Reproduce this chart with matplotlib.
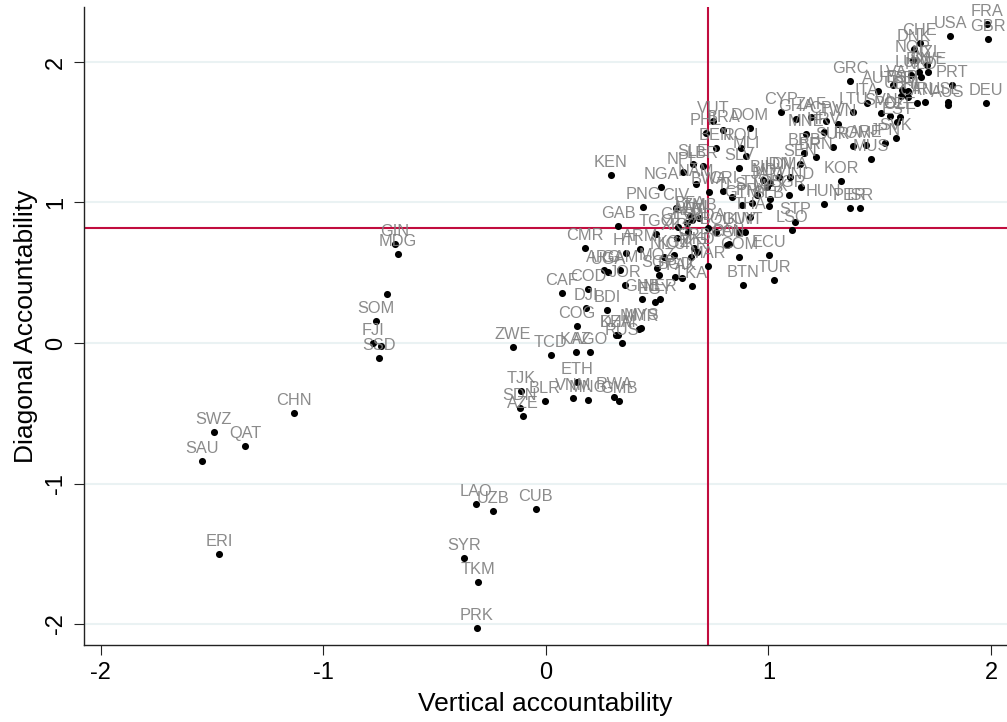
import matplotlib
matplotlib.use("Agg")
import matplotlib.pyplot as plt

plt.rcParams['font.family'] = ['Liberation Sans', 'DejaVu Sans']
plt.rcParams['axes.unicode_minus'] = False

# low end of the chart
iso_low = ['ERI', 'SAU', 'SWZ', 'QAT', 'CHN', 'GIN', 'MDG', '', 'SOM', 'FJI', '', 'SSD',
           'ZWE', 'TCD', 'KAZ', 'AGO', 'ETH', 'TJK', 'SDN', 'AZE', 'BLR', 'VNM', 'MNG',
           'RWA', 'GMB', 'LAO', 'UZB', 'CUB', 'SYR', 'TKM', 'PRK']
vert_low = [-1.47, -1.546, -1.492, -1.353, -1.133, -0.679, -0.665, -0.715, -0.764, -0.777, -0.742, -0.75,
            -0.148, 0.022, 0.135, 0.198, 0.139, -0.112, -0.117, -0.103, -0.004, 0.121, 0.189,
            0.306, 0.328, -0.315, -0.238, -0.045, -0.369, -0.306, -0.31]
diag_low = [-1.5, -0.84, -0.633, -0.733, -0.498, 0.705, 0.633, 0.348, 0.157, 0.0, -0.021, -0.107,
            -0.028, -0.085, -0.064, -0.064, -0.278, -0.342, -0.463, -0.52, -0.413, -0.391, -0.406,
            -0.384, -0.413, -1.146, -1.196, -1.181, -1.53, -1.7, -2.028]

# middle, below the red horizontal line
iso_mid = ['CMR', 'ARM', 'HTI', 'ARG', 'UGA', 'GAM', 'JOR', 'COD', 'CAF', 'DJI', 'BDI', 'COG',
           'KHM', 'DZA', 'MMR', 'MYS', 'RUS', 'GNB', 'EGY', 'NER', 'NIC', 'KGZ', 'MOZ', 'SGP',
           'BGD', 'PAK', 'LKA', 'UKR', 'SRB', 'MKD', 'MAR', 'COM', 'ECU', 'BTN', 'TUR', 'COL', 'PAN']
vert_mid = [0.175, 0.422, 0.36, 0.26, 0.279, 0.333, 0.355, 0.189, 0.072, 0.18, 0.274, 0.139,
            0.324, 0.315, 0.418, 0.427, 0.342, 0.431, 0.49, 0.512, 0.53, 0.575, 0.499, 0.508,
            0.58, 0.611, 0.656, 0.652, 0.665, 0.679, 0.728, 0.867, 1.002, 0.885, 1.025, 0.813, 0.822]
diag_mid = [0.676, 0.669, 0.64, 0.52, 0.505, 0.52, 0.413, 0.384, 0.356, 0.249, 0.235, 0.121,
            0.057, 0.057, 0.1, 0.107, 0.0, 0.313, 0.292, 0.313, 0.612, 0.626, 0.534, 0.484,
            0.47, 0.463, 0.406, 0.612, 0.676, 0.648, 0.548, 0.612, 0.626, 0.413, 0.448, 0.697, 0.704]

# dense cluster around the crossing of the red lines and above it
iso_core = ['GAB', 'TGO', 'KEN', 'NGA', 'PNG', 'CIV', 'BFA', 'MWI', 'ALB', 'GEO', 'XKX', 'TZA', 'ZMB',
            'MDA', 'BOL', 'GUY', 'KWT', 'THA', 'VUT', 'PHL', 'BRA', 'DOM', 'ROU', 'MLI', 'BEN', 'SLV',
            'SLE', 'LBR', 'NPL', 'NAM', 'BWA', 'CRI', 'TLS', 'GTM', 'PRY', 'SLB', 'MEX', 'BGR', 'TTO',
            'BIH', 'MDV', 'JAM', 'IDN', 'DMA', 'IND', 'SEN', 'STP', 'LSO']
vert_core = [0.324, 0.494, 0.292, 0.517, 0.436, 0.584, 0.647, 0.656, 0.634, 0.593, 0.589, 0.638, 0.69,
             0.728, 0.764, 0.867, 0.894, 0.917, 0.751, 0.719, 0.796, 0.917, 0.876, 0.899, 0.764, 0.867,
             0.661, 0.706, 0.616, 0.674, 0.733, 0.796, 0.836, 0.881, 0.926, 1.002, 1.007, 1.092, 0.948,
             0.975, 1.007, 0.993, 1.047, 1.097, 1.146, 1.142, 1.119, 1.106]
diag_core = [0.833, 0.776, 1.196, 1.11, 0.968, 0.961, 0.904, 0.875, 0.854, 0.826, 0.747, 0.79, 0.89,
             0.818, 0.79, 0.79, 0.79, 0.897, 1.58, 1.495, 1.516, 1.53, 1.388, 1.331, 1.388, 1.246,
             1.274, 1.26, 1.217, 1.132, 1.075, 1.082, 1.039, 0.982, 0.996, 0.975, 1.025, 1.053, 1.053,
             1.16, 1.139, 1.11, 1.181, 1.181, 1.11, 1.274, 0.861, 0.804]

# upper right
iso_high = ['BRB', 'BRN', 'MNE', 'HRV', 'SUR', 'ROM', 'ARE', 'MUS', 'KOR', 'HUN', 'PER', 'ISR',
            'CYP', 'GHA', 'ZAF', 'CPV', 'TWN', 'LTU', 'ITA', 'GRC', 'AUT', 'LVA', 'SVN', 'SVK',
            'JPN', 'POL', 'CZE', 'EST', 'ESP', 'BEL', 'URY', 'CHL', 'CAN', 'IRL', 'ISL', 'LUX',
            'AUS', 'NZL', 'SWE', 'FIN', 'NLD', 'NOR', 'DNK', 'CHE', 'PRT', 'DEU', 'USA', 'FRA', 'GBR']
vert_high = [1.16, 1.213, 1.169, 1.249, 1.29, 1.38, 1.438, 1.461, 1.326, 1.249, 1.366, 1.411,
             1.056, 1.124, 1.191, 1.258, 1.312, 1.38, 1.443, 1.366, 1.492, 1.56, 1.506, 1.573,
             1.524, 1.546, 1.591, 1.578, 1.6, 1.627, 1.596, 1.627, 1.667, 1.703, 1.807, 1.64,
             1.807, 1.712, 1.717, 1.676, 1.685, 1.649, 1.654, 1.681, 1.825, 1.978, 1.816, 1.982, 1.987]
diag_high = [1.352, 1.324, 1.488, 1.502, 1.395, 1.402, 1.409, 1.31, 1.153, 0.989, 0.961, 0.961,
             1.644, 1.594, 1.609, 1.58, 1.559, 1.644, 1.708, 1.865, 1.794, 1.836, 1.637, 1.459,
             1.423, 1.616, 1.609, 1.573, 1.801, 1.794, 1.758, 1.751, 1.708, 1.715, 1.715, 1.907,
             1.694, 1.979, 1.929, 1.929, 1.893, 2.014, 2.093, 2.135, 1.836, 1.708, 2.185, 2.27, 2.164]

iso = iso_low + iso_mid + iso_core + iso_high
vertical = vert_low + vert_mid + vert_core + vert_high
diagonal = diag_low + diag_mid + diag_core + diag_high

mean_vertical = 0.728
mean_diagonal = 0.82
ticks = [-2, -1, 0, 1, 2]

fig = plt.figure(figsize=(10.07, 7.22), dpi=100)
ax = fig.add_axes([84 / 1007, 77 / 722, 923 / 1007, 638 / 722])

ax.scatter(vertical, diagonal, s=26, color='black', linewidths=0, zorder=3)
for name, x, y in zip(iso, vertical, diagonal):
    ax.annotate(name, (x, y), xytext=(0, 9.0), textcoords='offset points', ha='center', va='center',
                fontsize=11.8, color='#7f7f7f', alpha=0.9, zorder=4)

ax.axvline(mean_vertical, color='#c10c3e', lw=1.5, zorder=2)
ax.axhline(mean_diagonal, color='#c10c3e', lw=1.5, zorder=2)

ax.set_xlim(-2.076, 2.072)
ax.set_ylim(-2.149, 2.391)
ax.set_xticks(ticks)
ax.set_yticks(ticks)
ax.grid(axis='y', color='#eaf2f3', lw=1.5, zorder=1)
ax.set_axisbelow(True)

ax.spines['top'].set_visible(False)
ax.spines['right'].set_visible(False)
ax.spines['left'].set_linewidth(1.0)
ax.spines['bottom'].set_linewidth(1.0)
ax.spines['left'].set_color('#222222')
ax.spines['bottom'].set_color('#222222')
ax.tick_params(axis='both', length=7, width=0.8, color='#222222', labelsize=17, pad=5)
plt.setp(ax.get_yticklabels(), rotation=90, va='center')

ax.set_xlabel('Vertical accountability', fontsize=19, labelpad=6)
ax.set_ylabel('Diagonal Accountability', fontsize=19, labelpad=5)

fig.savefig('out.png', dpi=100)
